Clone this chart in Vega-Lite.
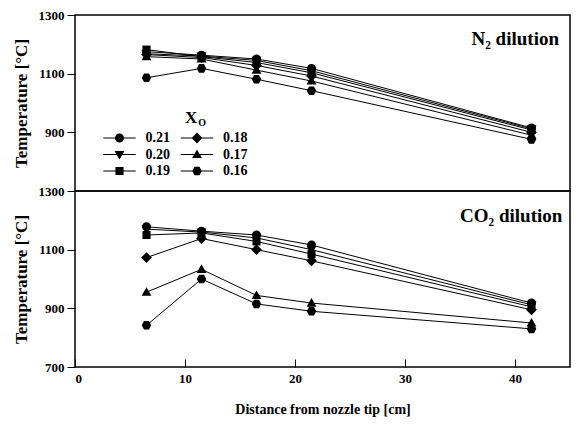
{
  "$schema": "https://vega.github.io/schema/vega-lite/v6.json",
  "padding": {"left": 11, "top": 8, "right": 0, "bottom": 0},
  "background": "white",
  "spacing": 0,
  "bounds": "flush",
  "config": {
    "font": "Liberation Serif",
    "view": {"stroke": "black", "strokeWidth": 1.5},
    "axis": {
      "labelFont": "Liberation Serif", "labelFontWeight": "bold", "labelFontSize": 13, "labelColor": "black",
      "titleFont": "Liberation Serif", "titleFontWeight": "bold", "titleFontSize": 17, "titleColor": "black",
      "domain": false, "grid": false, "tickColor": "black", "tickWidth": 1, "format": "d"
    },
    "legend": {
      "labelFont": "Liberation Serif", "labelFontWeight": "bold", "labelFontSize": 14, "labelColor": "black"
    }
  },
  "datasets": {
    "notes": [
      {"panel": "N2", "label": "N₂ dilution"},
      {"panel": "CO2", "label": "CO₂ dilution"},
      {"panel": "legend", "label": "X"},
      {"panel": "legendsub", "label": "O"}
    ],
    "temps": [
      {"dil": "N2", "xo": "0.21", "d": 6.5, "t": 1175}, {"dil": "N2", "xo": "0.21", "d": 11.5, "t": 1163}, {"dil": "N2", "xo": "0.21", "d": 16.5, "t": 1150}, {"dil": "N2", "xo": "0.21", "d": 21.5, "t": 1118}, {"dil": "N2", "xo": "0.21", "d": 41.5, "t": 915},
      {"dil": "N2", "xo": "0.20", "d": 6.5, "t": 1168}, {"dil": "N2", "xo": "0.20", "d": 11.5, "t": 1160}, {"dil": "N2", "xo": "0.20", "d": 16.5, "t": 1145}, {"dil": "N2", "xo": "0.20", "d": 21.5, "t": 1110}, {"dil": "N2", "xo": "0.20", "d": 41.5, "t": 912},
      {"dil": "N2", "xo": "0.19", "d": 6.5, "t": 1182}, {"dil": "N2", "xo": "0.19", "d": 11.5, "t": 1158}, {"dil": "N2", "xo": "0.19", "d": 16.5, "t": 1138}, {"dil": "N2", "xo": "0.19", "d": 21.5, "t": 1103}, {"dil": "N2", "xo": "0.19", "d": 41.5, "t": 908},
      {"dil": "N2", "xo": "0.18", "d": 6.5, "t": 1165}, {"dil": "N2", "xo": "0.18", "d": 11.5, "t": 1155}, {"dil": "N2", "xo": "0.18", "d": 16.5, "t": 1128}, {"dil": "N2", "xo": "0.18", "d": 21.5, "t": 1092}, {"dil": "N2", "xo": "0.18", "d": 41.5, "t": 900},
      {"dil": "N2", "xo": "0.17", "d": 6.5, "t": 1158}, {"dil": "N2", "xo": "0.17", "d": 11.5, "t": 1150}, {"dil": "N2", "xo": "0.17", "d": 16.5, "t": 1112}, {"dil": "N2", "xo": "0.17", "d": 21.5, "t": 1075}, {"dil": "N2", "xo": "0.17", "d": 41.5, "t": 890},
      {"dil": "N2", "xo": "0.16", "d": 6.5, "t": 1086}, {"dil": "N2", "xo": "0.16", "d": 11.5, "t": 1118}, {"dil": "N2", "xo": "0.16", "d": 16.5, "t": 1081}, {"dil": "N2", "xo": "0.16", "d": 21.5, "t": 1042}, {"dil": "N2", "xo": "0.16", "d": 41.5, "t": 876},
      {"dil": "CO2", "xo": "0.21", "d": 6.5, "t": 1178}, {"dil": "CO2", "xo": "0.21", "d": 11.5, "t": 1163}, {"dil": "CO2", "xo": "0.21", "d": 16.5, "t": 1150}, {"dil": "CO2", "xo": "0.21", "d": 21.5, "t": 1116}, {"dil": "CO2", "xo": "0.21", "d": 41.5, "t": 918},
      {"dil": "CO2", "xo": "0.20", "d": 6.5, "t": 1170}, {"dil": "CO2", "xo": "0.20", "d": 11.5, "t": 1160}, {"dil": "CO2", "xo": "0.20", "d": 16.5, "t": 1140}, {"dil": "CO2", "xo": "0.20", "d": 21.5, "t": 1100}, {"dil": "CO2", "xo": "0.20", "d": 41.5, "t": 912},
      {"dil": "CO2", "xo": "0.19", "d": 6.5, "t": 1150}, {"dil": "CO2", "xo": "0.19", "d": 11.5, "t": 1157}, {"dil": "CO2", "xo": "0.19", "d": 16.5, "t": 1128}, {"dil": "CO2", "xo": "0.19", "d": 21.5, "t": 1085}, {"dil": "CO2", "xo": "0.19", "d": 41.5, "t": 905},
      {"dil": "CO2", "xo": "0.18", "d": 6.5, "t": 1073}, {"dil": "CO2", "xo": "0.18", "d": 11.5, "t": 1138}, {"dil": "CO2", "xo": "0.18", "d": 16.5, "t": 1100}, {"dil": "CO2", "xo": "0.18", "d": 21.5, "t": 1062}, {"dil": "CO2", "xo": "0.18", "d": 41.5, "t": 895},
      {"dil": "CO2", "xo": "0.17", "d": 6.5, "t": 955}, {"dil": "CO2", "xo": "0.17", "d": 11.5, "t": 1033}, {"dil": "CO2", "xo": "0.17", "d": 16.5, "t": 944}, {"dil": "CO2", "xo": "0.17", "d": 21.5, "t": 918}, {"dil": "CO2", "xo": "0.17", "d": 41.5, "t": 850},
      {"dil": "CO2", "xo": "0.16", "d": 6.5, "t": 842}, {"dil": "CO2", "xo": "0.16", "d": 11.5, "t": 1000}, {"dil": "CO2", "xo": "0.16", "d": 16.5, "t": 915}, {"dil": "CO2", "xo": "0.16", "d": 21.5, "t": 890}, {"dil": "CO2", "xo": "0.16", "d": 41.5, "t": 830}
    ]
  },
  "vconcat": [
    {
      "width": 495,
      "height": 176,
      "layer": [
        {"data": {"name": "temps"}, "transform": [{"filter": "datum.dil === 'N2'"}],
         "mark": {"type": "line", "color": "black", "strokeWidth": 1},
         "encoding": {
           "x": {"field": "d", "type": "quantitative", "scale": {"domain": [0, 45], "nice": false}, "axis": null},
           "y": {"field": "t", "type": "quantitative", "scale": {"domain": [700, 1300], "nice": false, "zero": false},
                 "axis": {"values": [900, 1100, 1300], "tickSize": 8, "labelPadding": 3, "titlePadding": 8, "title": "Temperature [°C]"}},
           "detail": {"field": "xo", "type": "nominal"}, "order": {"field": "d", "type": "quantitative"}}},
        {
          "data": {"name": "temps"}, "transform": [{"filter": "datum.dil === 'N2'"}],
          "mark": {"type": "point", "filled": true, "color": "black", "opacity": 1, "size": 81},
          "encoding": {
            "x": {"field": "d", "type": "quantitative"},
            "y": {"field": "t", "type": "quantitative"},
            "shape": {"field": "xo", "type": "nominal", "legend": null,
            "scale": {"domain": ["0.21", "0.20", "0.19", "0.18", "0.17", "0.16"],
              "range": ["M-1,0A1,1,0,1,1,1,0A1,1,0,1,1,-1,0Z", "M-1.1,-0.8L1.1,-0.8L0,1.1Z", "M-0.9,-0.9H0.9V0.9H-0.9Z", "M0,-1.2L1.2,0L0,1.2L-1.2,0Z", "M0,-1.1L1.1,0.8L-1.1,0.8Z", "M-0.55,-0.95L0.55,-0.95L1.05,0L0.55,0.95L-0.55,0.95L-1.05,0Z"]}}}
        },
        {
          "data": {"name": "temps"}, "transform": [{"filter": "datum.dil === 'N2'"}],
          "mark": {"type": "point", "filled": true, "color": "black", "opacity": 0, "size": 81},
          "encoding": {
            "x": {"field": "d", "type": "quantitative"},
            "y": {"field": "t", "type": "quantitative"},
            "shape": {"field": "xo", "type": "nominal",
            "scale": {"domain": ["0.21", "0.20", "0.19", "0.18", "0.17", "0.16"],
              "range": [
                "M-3.6,-0.13L3.6,-0.13L3.6,0.13L-3.6,0.13ZM-1,0A1,1,0,1,1,1,0A1,1,0,1,1,-1,0Z",
                "M-3.6,-0.13L3.6,-0.13L3.6,0.13L-3.6,0.13ZM-1.1,-0.8L1.1,-0.8L0,1.1Z",
                "M-3.6,-0.13L3.6,-0.13L3.6,0.13L-3.6,0.13ZM-0.9,-0.9L0.9,-0.9L0.9,0.9L-0.9,0.9Z",
                "M-3.6,-0.13L3.6,-0.13L3.6,0.13L-3.6,0.13ZM0,-1.2L1.2,0L0,1.2L-1.2,0Z",
                "M-3.6,-0.13L3.6,-0.13L3.6,0.13L-3.6,0.13ZM0,-1.1L1.1,0.8L-1.1,0.8Z",
                "M-3.6,-0.13L3.6,-0.13L3.6,0.13L-3.6,0.13ZM-0.55,-0.95L0.55,-0.95L1.05,0L0.55,0.95L-0.55,0.95L-1.05,0Z"]},
            "legend": {"title": null, "orient": "none", "legendX": 37.5, "legendY": 116, "columns": 2, "columnPadding": 9.5, "rowPadding": 2.5,
              "symbolSize": 81, "symbolOpacity": 1, "symbolFillColor": "black", "symbolStrokeColor": "black", "symbolStrokeWidth": 0, "labelOffset": 19}}}
        },
        {"data": {"name": "notes"}, "transform": [{"filter": "datum.panel === 'legend'"}],
         "mark": {"type": "text", "align": "left", "baseline": "alphabetic", "font": "Liberation Serif", "fontWeight": "bold", "fontSize": 17, "color": "black"},
         "encoding": {"text": {"field": "label", "type": "nominal"}, "x": {"datum": 10, "type": "quantitative"}, "y": {"datum": 932, "type": "quantitative"}}},
        {"data": {"name": "notes"}, "transform": [{"filter": "datum.panel === 'legendsub'"}],
         "mark": {"type": "text", "align": "left", "baseline": "alphabetic", "font": "Liberation Serif", "fontWeight": "bold", "fontSize": 10, "color": "black"},
         "encoding": {"text": {"field": "label", "type": "nominal"}, "x": {"datum": 11.2, "type": "quantitative"}, "y": {"datum": 920, "type": "quantitative"}}},
        {"data": {"name": "notes"}, "transform": [{"filter": "datum.panel === 'N2'"}],
         "mark": {"type": "text", "align": "right", "baseline": "middle", "font": "Liberation Serif", "fontWeight": "bold", "fontSize": 19, "color": "black"},
         "encoding": {"text": {"field": "label", "type": "nominal"}, "x": {"datum": 44.0, "type": "quantitative"}, "y": {"datum": 1217, "type": "quantitative"}}}
      ],
      "resolve": {"scale": {"shape": "independent"}, "legend": {"shape": "independent"}}
    },
    {
      "width": 495,
      "height": 176,
      "layer": [
        {"data": {"name": "temps"}, "transform": [{"filter": "datum.dil === 'CO2'"}],
         "mark": {"type": "line", "color": "black", "strokeWidth": 1},
         "encoding": {
           "x": {"field": "d", "type": "quantitative", "scale": {"domain": [0, 45], "nice": false},
                 "axis": {"values": [0, 10, 20, 30, 40], "tickSize": -8, "labelPadding": 13, "titlePadding": 17, "titleFontSize": 14, "title": "Distance from nozzle tip [cm]"}},
           "y": {"field": "t", "type": "quantitative", "scale": {"domain": [700, 1300], "nice": false, "zero": false},
                 "axis": {"values": [700, 900, 1100, 1300], "tickSize": 8, "labelPadding": 3, "titlePadding": 8, "title": "Temperature [°C]"}},
           "detail": {"field": "xo", "type": "nominal"}, "order": {"field": "d", "type": "quantitative"}}},
        {
          "data": {"name": "temps"}, "transform": [{"filter": "datum.dil === 'CO2'"}],
          "mark": {"type": "point", "filled": true, "color": "black", "opacity": 1, "size": 81},
          "encoding": {
            "x": {"field": "d", "type": "quantitative"},
            "y": {"field": "t", "type": "quantitative"},
            "shape": {"field": "xo", "type": "nominal", "legend": null,
            "scale": {"domain": ["0.21", "0.20", "0.19", "0.18", "0.17", "0.16"],
              "range": ["M-1,0A1,1,0,1,1,1,0A1,1,0,1,1,-1,0Z", "M-1.1,-0.8L1.1,-0.8L0,1.1Z", "M-0.9,-0.9H0.9V0.9H-0.9Z", "M0,-1.2L1.2,0L0,1.2L-1.2,0Z", "M0,-1.1L1.1,0.8L-1.1,0.8Z", "M-0.55,-0.95L0.55,-0.95L1.05,0L0.55,0.95L-0.55,0.95L-1.05,0Z"]}}}
        },
        {"data": {"name": "notes"}, "transform": [{"filter": "datum.panel === 'CO2'"}],
         "mark": {"type": "text", "align": "right", "baseline": "middle", "font": "Liberation Serif", "fontWeight": "bold", "fontSize": 19, "color": "black"},
         "encoding": {"text": {"field": "label", "type": "nominal"}, "x": {"datum": 44.3, "type": "quantitative"}, "y": {"datum": 1215, "type": "quantitative"}}}
      ]
    }
  ],
  "resolve": {"scale": {"shape": "independent"}, "legend": {"shape": "independent"}}
}
